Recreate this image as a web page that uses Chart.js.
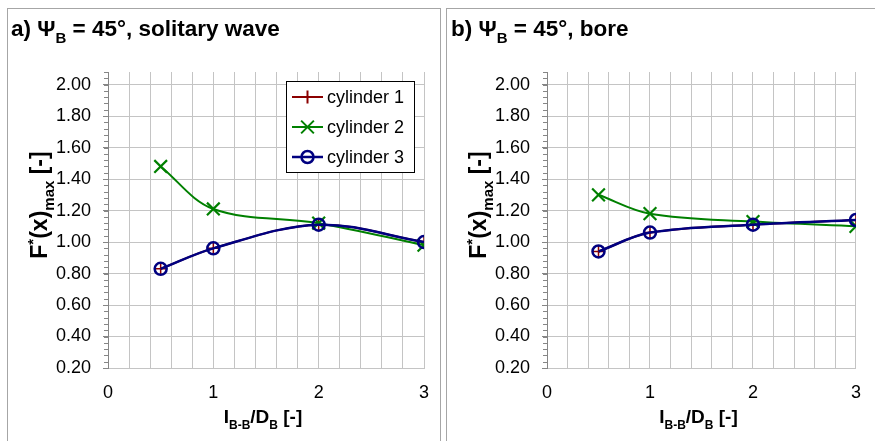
<!DOCTYPE html>
<html>
<head>
<meta charset="utf-8">
<script src="https://cdn.jsdelivr.net/npm/chart.js@4.4.1/dist/chart.umd.min.js"></script>
<style>
  html, body { margin: 0; padding: 0; background: #fff; }
  #wrap { position: relative; width: 875px; height: 441px; overflow: hidden; }
  .panel { position: absolute; border: 1px solid #a6a6a6; }
  canvas { position: absolute; left: 0; top: 0; }
</style>
</head>
<body>
<div id="wrap">
  <div class="panel" style="left:7px;top:8px;width:432px;height:450px;"></div>
  <div class="panel" style="left:446px;top:8px;width:450px;height:450px;"></div>
  <canvas id="chartSolitary" width="875" height="441"></canvas>
  <canvas id="chartBore" width="875" height="441"></canvas>
</div>
<script>
// spacing ratio l_B-B / D_B
const spacing = [0.5, 1, 2, 3];

// a) solitary wave, Psi_B = 45 deg
const solitaryCyl1 = [0.83, 0.96, 1.11, 1.00];
const solitaryCyl2 = [1.48, 1.21, 1.12, 0.98];
const solitaryCyl3 = [0.83, 0.96, 1.11, 1.00];

// b) bore, Psi_B = 45 deg
const boreCyl1 = [0.94, 1.06, 1.11, 1.14];
const boreCyl2 = [1.30, 1.18, 1.13, 1.10];
const boreCyl3 = [0.94, 1.06, 1.11, 1.14];

const seriesNames = ['cylinder 1', 'cylinder 2', 'cylinder 3'];
const xTickLabels = ['0', '1', '2', '3'];
const yTickLabels = ['0.20', '0.40', '0.60', '0.80', '1.00', '1.20', '1.40', '1.60', '1.80', '2.00'];

const FONT = "'Liberation Sans', Arial, Helvetica, sans-serif";
const seriesStyle = [
  { color: '#8b0000', pointStyle: 'cross',    radius: 6.5, pointWidth: 1.5, lineWidth: 2,   order: 2 },
  { color: '#008000', pointStyle: 'crossRot', radius: 9,   pointWidth: 2.2, lineWidth: 2,   order: 1 },
  { color: '#000080', pointStyle: 'circle',   radius: 6,   pointWidth: 2.5, lineWidth: 2.5, order: 0 }
];

// draws a run of text pieces, some of them sub/superscripted
function drawRich(ctx, pieces, x, y, size, align) {
  const big = 'bold ' + size + 'px ' + FONT;
  const small = 'bold ' + Math.round(size * 0.65) + 'px ' + FONT;
  let total = 0;
  pieces.forEach(p => { ctx.font = p.s ? small : big; total += ctx.measureText(p.t).width; });
  let cx = align === 'center' ? x - total / 2 : x;
  ctx.textBaseline = 'alphabetic';
  ctx.textAlign = 'left';
  ctx.fillStyle = '#000';
  pieces.forEach(p => {
    ctx.font = p.s ? small : big;
    const dy = p.s === 'sub' ? size * 0.3 : p.s === 'sup' ? -size * 0.38 : 0;
    ctx.fillText(p.t, cx, y + dy);
    cx += ctx.measureText(p.t).width;
  });
}

const decorPlugin = {
  id: 'decor',
  afterDraw(chart, args, opts) {
    const ctx = chart.ctx;
    const ys = chart.scales.y;
    const area = chart.chartArea;
    ctx.save();
    // minor ticks on the value axis
    ctx.strokeStyle = '#868686';
    ctx.lineWidth = 1;
    for (let k = 0; ; k++) {
      const v = ys.min + k * 0.04;
      if (v > ys.max + 1e-9) break;
      const py = Math.round(ys.getPixelForValue(v)) + 0.5;
      ctx.beginPath();
      ctx.moveTo(area.left - 4, py);
      ctx.lineTo(area.left, py);
      ctx.stroke();
    }
    // panel title
    drawRich(ctx, opts.title, opts.titleX, 36, 22.5, 'left');
    // x-axis title
    drawRich(ctx, [{ t: 'I' }, { t: 'B-B', s: 'sub' }, { t: '/D' }, { t: 'B', s: 'sub' }, { t: ' [-]' }],
      (area.left + area.right) / 2 - 3, 423, 19, 'center');
    // y-axis title
    ctx.save();
    ctx.translate(opts.yTitleX, 205);
    ctx.rotate(-Math.PI / 2);
    drawRich(ctx, [{ t: 'F' }, { t: '*', s: 'sup' }, { t: '(x)' }, { t: 'max', s: 'sub' }, { t: ' [-]' }],
      0, 0, 23, 'center');
    ctx.restore();
    // legend
    if (opts.legend) {
      const lx = 286, ly = 81, lw = 128, lh = 91;
      ctx.fillStyle = '#fff';
      ctx.fillRect(lx, ly, lw, lh);
      ctx.strokeStyle = '#000';
      ctx.lineWidth = 1;
      ctx.strokeRect(lx + 0.5, ly + 0.5, lw, lh);
      chart.data.datasets.forEach((ds, i) => {
        const cy = ly + 16 + i * 30;
        ctx.strokeStyle = ds.borderColor;
        ctx.lineWidth = ds.borderWidth;
        ctx.beginPath();
        ctx.moveTo(lx + 6, cy);
        ctx.lineTo(lx + 37, cy);
        ctx.stroke();
        ctx.fillStyle = 'rgba(0,0,0,0)';
        Chart.helpers.drawPoint(ctx, {
          pointStyle: ds.pointStyle, radius: ds.pointRadius, borderWidth: ds.pointBorderWidth,
          rotation: 0
        }, lx + 21.5, cy);
        ctx.fillStyle = '#000';
        ctx.font = '18px ' + FONT;
        ctx.textAlign = 'left';
        ctx.textBaseline = 'middle';
        ctx.fillText(ds.label, lx + 41, cy + 1);
      });
    }
    ctx.restore();
  }
};

function buildChart(id, series, layout) {
  const datasets = series.map((vals, i) => {
    const st = seriesStyle[i];
    return {
      label: seriesNames[i],
      data: spacing.map((x, j) => ({ x: x, y: vals[j] })),
      borderColor: st.color,
      backgroundColor: 'rgba(0,0,0,0)',
      borderWidth: st.lineWidth,
      tension: 0.35,
      pointStyle: st.pointStyle,
      pointRadius: st.radius,
      pointBorderWidth: st.pointWidth,
      pointBorderColor: st.color,
      pointBackgroundColor: 'rgba(0,0,0,0)',
      order: st.order,
      fill: false
    };
  });
  return new Chart(document.getElementById(id), {
    type: 'line',
    data: { datasets },
    options: {
      responsive: false,
      devicePixelRatio: 1,
      animation: false,
      events: [],
      layout: { padding: { left: 0, top: 72, right: 875 - layout.right, bottom: 0 } },
      plugins: {
        legend: { display: false },
        tooltip: { enabled: false },
        decor: layout
      },
      scales: {
        x: {
          type: 'linear',
          min: 0, max: 3,
          grid: { color: '#c4c4c4', drawTicks: false, lineWidth: 1 },
          border: { color: '#c4c4c4', width: 1 },
          ticks: {
            stepSize: 0.2, autoSkip: false, maxRotation: 0, padding: 14, includeBounds: false,
            color: '#000', font: { family: FONT, size: 18 },
            callback: v => Math.abs(v - Math.round(v)) < 1e-6 ? xTickLabels[Math.round(v)] : ''
          },
          afterFit: s => { s.height = 441 - 368; }
        },
        y: {
          type: 'linear',
          min: 0.2, max: 2.08,
          grid: { color: '#c4c4c4', tickColor: '#868686', tickLength: 5, lineWidth: 1 },
          border: { color: '#868686', width: 1 },
          ticks: {
            stepSize: 0.2, padding: 12, includeBounds: false,
            color: '#000', font: { family: FONT, size: 18 },
            callback: v => {
              const i = Math.round((v - 0.2) / 0.2);
              return Math.abs(v - (0.2 + i * 0.2)) < 1e-6 ? (yTickLabels[i] || '') : '';
            }
          },
          afterFit: s => { s.width = layout.left; }
        }
      }
    },
    plugins: [decorPlugin]
  });
}

buildChart('chartSolitary', [solitaryCyl1, solitaryCyl2, solitaryCyl3], {
  left: 108, right: 424, titleX: 11, yTitleX: 47, legend: true,
  title: [{ t: 'a) \u03A8' }, { t: 'B', s: 'sub' }, { t: ' = 45\u00B0, solitary wave' }]
});
buildChart('chartBore', [boreCyl1, boreCyl2, boreCyl3], {
  left: 547, right: 863, titleX: 451, yTitleX: 486, legend: false,
  title: [{ t: 'b) \u03A8' }, { t: 'B', s: 'sub' }, { t: ' = 45\u00B0, bore' }]
});
</script>
</body>
</html>
